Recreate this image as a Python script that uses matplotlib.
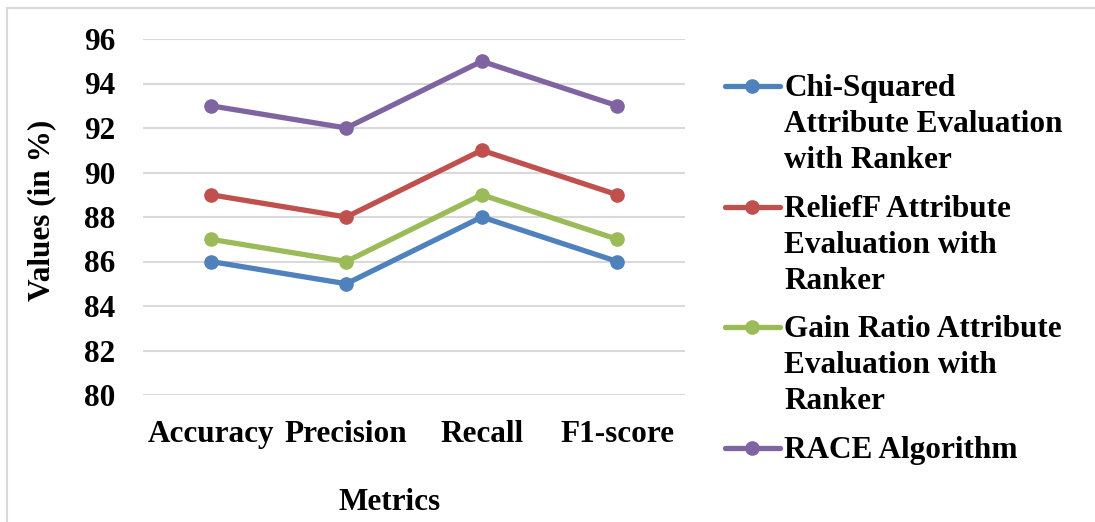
import matplotlib
matplotlib.use("Agg")
import matplotlib.pyplot as plt
from matplotlib.lines import Line2D

categories = ["Accuracy", "Precision", "Recall", "F1-score"]
series_names = [
    "Chi-Squared\nAttribute Evaluation\nwith Ranker",
    "ReliefF Attribute\nEvaluation with\nRanker",
    "Gain Ratio Attribute\nEvaluation with\nRanker",
    "RACE Algorithm",
]
chi_squared = [86, 85, 88, 86]
relieff = [89, 88, 91, 89]
gain_ratio = [87, 86, 89, 87]
race = [93, 92, 95, 93]
yticks = [80, 82, 84, 86, 88, 90, 92, 94, 96]
colors = ["#4F81BD", "#C0504D", "#9BBB59", "#8064A2"]

plt.rcParams["font.family"] = ["Liberation Serif", "DejaVu Serif"]
plt.rcParams["font.weight"] = "bold"
FS = 22.5

W, H = 1095, 522
fig = plt.figure(figsize=(W / 100, H / 100), dpi=100)

def fx(px):
    return px / W

def fy(py):
    return 1 - py / H

ax = fig.add_axes([fx(143), fy(395), fx(685) - fx(143), fy(39) - fy(395)])

data = [chi_squared, relieff, gain_ratio, race]
x = list(range(len(categories)))
for vals, c in zip(data, colors):
    ax.plot(x, vals, color=c, lw=3.8, marker="o", ms=9.5, zorder=3,
            solid_capstyle="round", clip_on=False)

ax.set_xlim(-0.5, 3.5)
ax.set_ylim(80, 96)
ax.set_yticks(yticks)
ax.set_yticklabels([str(v) for v in yticks], fontsize=FS, fontweight="bold")
ax.set_xticks(x)
ax.set_xticklabels(categories, fontsize=FS, fontweight="bold")
ax.tick_params(axis="both", length=0)
ax.tick_params(axis="y", pad=20)
ax.tick_params(axis="x", pad=18)
ax.grid(axis="y", color="#D9D9D9", lw=1.5, zorder=0)
for s in ax.spines.values():
    s.set_visible(False)

fig.text(fx(42), fy(210), "Values (in %)", rotation=90, ha="center", va="center",
         fontsize=FS, fontweight="bold")
fig.text(fx(390), fy(502), "Metrics", ha="center", va="center",
         fontsize=FS, fontweight="bold")

# outer border (top and left only)
fig.add_artist(Line2D([fx(7), fx(1095)], [fy(8), fy(8)], color="#D9D9D9", lw=1.5))
fig.add_artist(Line2D([fx(7), fx(7)], [fy(8), fy(522)], color="#D9D9D9", lw=1.5))

# legend (drawn manually)
handle_y = [86, 207, 327, 448]
for name, c, hy in zip(series_names, colors, handle_y):
    fig.add_artist(Line2D([fx(725), fx(780)], [fy(hy), fy(hy)], color=c, lw=3.8,
                          solid_capstyle="round"))
    fig.add_artist(Line2D([fx(752)], [fy(hy)], color=c, marker="o", ms=9.5, lw=0))
    for i, line in enumerate(name.split("\n")):
        fig.text(fx(784), fy(hy + 10 + 36 * i), line, ha="left", va="baseline",
                 fontsize=FS, fontweight="bold")

fig.savefig("out.png", dpi=100)
